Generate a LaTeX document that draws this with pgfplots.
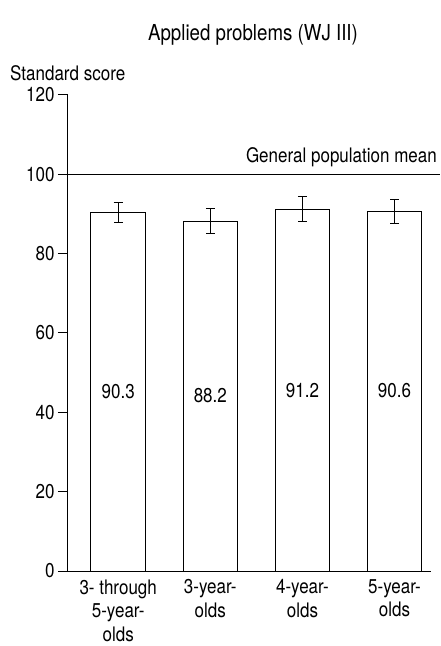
\documentclass[border=0pt]{standalone}
\usepackage{fontspec}
\setmainfont{TeX Gyre Heros}[FakeStretch=0.85]
\usepackage{pgfplots}
\pgfplotsset{compat=1.18}
\begin{document}
\begin{tikzpicture}[font=\fontsize{20}{24}\selectfont]
\useasboundingbox (-68pt,-75pt) rectangle (372pt,571pt);
\begin{axis}[
  at={(0pt,0pt)}, anchor=south west,
  scale only axis, width=363pt, height=476pt,
  xmin=-0.545, xmax=3.396, ymin=0, ymax=120,
  axis x line*=bottom, axis y line*=left,
  axis line style={line width=1pt},
  ytick={0,20,40,60,80,100,120},
  tick align=outside, major tick length=10pt,
  y tick style={line width=1pt, black},
  xtick={0,1,2,3},
  xticklabels={{3- through\\5-year-\\olds},{3-year-\\olds},{4-year-\\olds},{5-year-\\olds}},
  x tick style={draw=none},
  x tick label style={align=center, yshift=5pt, font=\fontsize{20}{23.5}\selectfont},
  y tick label style={font=\fontsize{20}{24}\selectfont},
  /pgf/number format/assume math mode=true,
  clip=false,
]
\addplot[ybar, bar width=54.5pt, fill=white, draw=black, line width=1pt,
  error bars/.cd, y dir=both, y explicit,
  error bar style={line width=1pt, black},
  error mark options={rotate=90, mark size=4.5pt, line width=1pt, black}]
  coordinates {
  (0,90.3) +- (0,2.5)
  (1,88.2) +- (0,3.1)
  (2,91.2) +- (0,3.1)
  (3,90.6) +- (0,3.1)
  };
\addplot[line width=1pt, black] coordinates {(-0.545,100) (3.49,100)};
\node at (axis cs:0,45.3) {90.3};
\node at (axis cs:1,44.3) {88.2};
\node at (axis cs:2,45.6) {91.2};
\node at (axis cs:3,45.6) {90.6};
\end{axis}
\node[anchor=east, inner sep=0pt] at (369pt,414pt) {General population mean};
\node[anchor=west, inner sep=0pt] at (-58pt,498pt) {Standard score};
\node[font=\fontsize{22}{26}\selectfont] at (185pt,536pt) {Applied problems (WJ III)};
\end{tikzpicture}
\end{document}
